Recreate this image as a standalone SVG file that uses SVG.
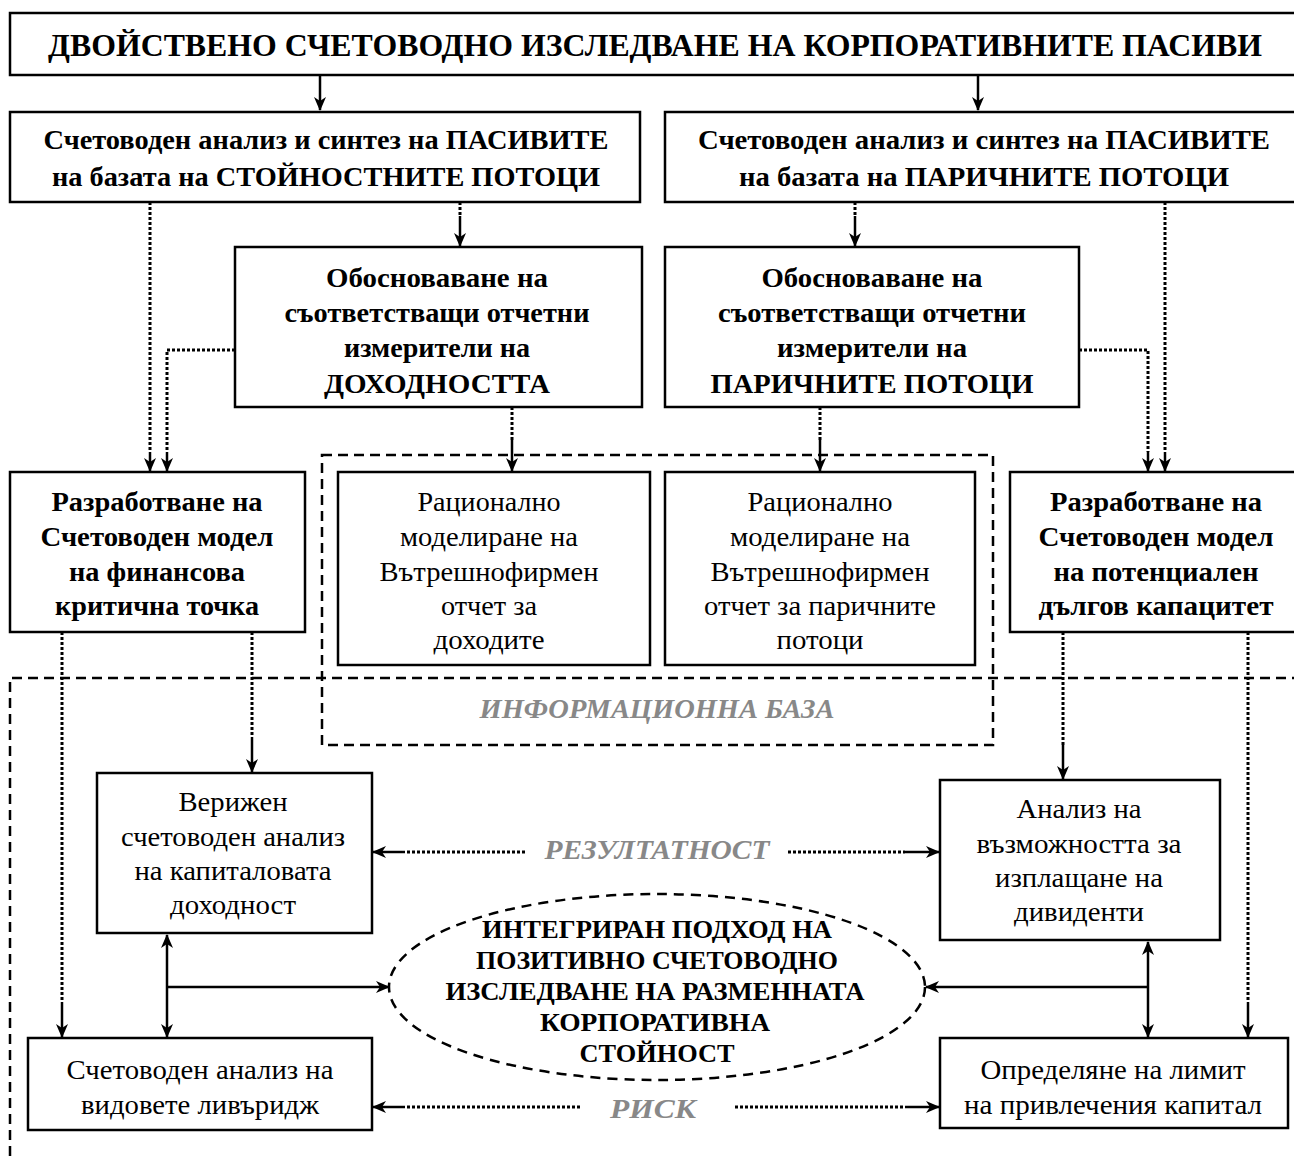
<svg xmlns="http://www.w3.org/2000/svg" width="1294" height="1156" viewBox="0 0 1294 1156">
<style>
.box{fill:#fff;stroke:#000;stroke-width:2.5}
.dsh{fill:none;stroke:#000;stroke-width:2.5;stroke-dasharray:10 6}
.dot{fill:none;stroke:#000;stroke-width:3;stroke-dasharray:3 2}
.sol{fill:none;stroke:#000;stroke-width:2.5}
text{font-family:"Times New Roman","Liberation Serif",serif;text-anchor:middle;fill:#000}
.tb{font-weight:bold;font-size:28px}
.tn{font-size:28px}
.tt{font-weight:bold;font-size:31px}
.te{font-weight:bold;font-size:25px}
.lab{font-weight:bold;font-style:italic;font-size:28px;fill:#888}
</style>
<defs>
<marker id="ah" viewBox="0 0 14 12" refX="13" refY="6" markerWidth="14" markerHeight="12" markerUnits="userSpaceOnUse" orient="auto-start-reverse">
<path d="M0,0 L14,6 L0,12 L4,6 z" fill="#000"/>
</marker>
</defs>
<rect width="1294" height="1156" fill="#fff"/>

<g id="regions">
<path class="dsh" d="M10,1156 V678 H1296"/>
<rect class="dsh" x="322" y="455" width="671" height="290"/>
<text class="lab" x="657" y="718" textLength="355" lengthAdjust="spacingAndGlyphs">ИНФОРМАЦИОННА БАЗА</text>
<text class="lab" x="657" y="859" textLength="225" lengthAdjust="spacingAndGlyphs">РЕЗУЛТАТНОСТ</text>
<text class="lab" x="653" y="1118" textLength="86" lengthAdjust="spacingAndGlyphs">РИСК</text>
</g>

<g id="connectors">
<line class="sol" x1="320" y1="75" x2="320" y2="110" marker-end="url(#ah)"/>
<line class="sol" x1="978" y1="75" x2="978" y2="110" marker-end="url(#ah)"/>
<line class="dot" x1="460" y1="202" x2="460" y2="216"/>
<line class="sol" x1="460" y1="216" x2="460" y2="246" marker-end="url(#ah)"/>
<line class="dot" x1="855" y1="202" x2="855" y2="216"/>
<line class="sol" x1="855" y1="216" x2="855" y2="246" marker-end="url(#ah)"/>
<line class="dot" x1="150" y1="202" x2="150" y2="452"/>
<line class="sol" x1="150" y1="452" x2="150" y2="471" marker-end="url(#ah)"/>
<path class="dot" d="M235,350 H167 V452"/>
<line class="sol" x1="167" y1="452" x2="167" y2="471" marker-end="url(#ah)"/>
<line class="dot" x1="1165" y1="202" x2="1165" y2="452"/>
<line class="sol" x1="1165" y1="452" x2="1165" y2="471" marker-end="url(#ah)"/>
<path class="dot" d="M1079,350 H1148 V452"/>
<line class="sol" x1="1148" y1="452" x2="1148" y2="471" marker-end="url(#ah)"/>
<line class="dot" x1="512" y1="407" x2="512" y2="440"/>
<line class="sol" x1="512" y1="440" x2="512" y2="471" marker-end="url(#ah)"/>
<line class="dot" x1="820" y1="407" x2="820" y2="440"/>
<line class="sol" x1="820" y1="440" x2="820" y2="471" marker-end="url(#ah)"/>
<line class="dot" x1="252" y1="632" x2="252" y2="737"/>
<line class="sol" x1="252" y1="737" x2="252" y2="772" marker-end="url(#ah)"/>
<line class="dot" x1="62" y1="632" x2="62" y2="1002"/>
<line class="sol" x1="62" y1="1002" x2="62" y2="1037" marker-end="url(#ah)"/>
<line class="dot" x1="1063" y1="632" x2="1063" y2="745"/>
<line class="sol" x1="1063" y1="745" x2="1063" y2="779" marker-end="url(#ah)"/>
<line class="dot" x1="1248" y1="632" x2="1248" y2="1002"/>
<line class="sol" x1="1248" y1="1002" x2="1248" y2="1037" marker-end="url(#ah)"/>
<line class="dot" x1="525" y1="852" x2="405" y2="852"/>
<line class="sol" x1="405" y1="852" x2="373" y2="852" marker-end="url(#ah)"/>
<line class="dot" x1="788" y1="852" x2="905" y2="852"/>
<line class="sol" x1="905" y1="852" x2="939" y2="852" marker-end="url(#ah)"/>
<line class="dot" x1="580" y1="1107" x2="405" y2="1107"/>
<line class="sol" x1="405" y1="1107" x2="373" y2="1107" marker-end="url(#ah)"/>
<line class="dot" x1="735" y1="1107" x2="905" y2="1107"/>
<line class="sol" x1="905" y1="1107" x2="939" y2="1107" marker-end="url(#ah)"/>
<line class="sol" x1="167" y1="935" x2="167" y2="1037" marker-start="url(#ah)" marker-end="url(#ah)"/>
<line class="sol" x1="167" y1="987" x2="389" y2="987" marker-end="url(#ah)"/>
<line class="sol" x1="1148" y1="942" x2="1148" y2="1037" marker-start="url(#ah)" marker-end="url(#ah)"/>
<line class="sol" x1="1148" y1="987" x2="926" y2="987" marker-end="url(#ah)"/>
</g>

<g id="n-title">
<rect class="box" x="10" y="13" width="1290" height="62"/>
<text class="tt" x="655" y="56" textLength="1214" lengthAdjust="spacingAndGlyphs">ДВОЙСТВЕНО СЧЕТОВОДНО ИЗСЛЕДВАНЕ НА КОРПОРАТИВНИТЕ ПАСИВИ</text>
</g>
<g id="n-a">
<rect class="box" x="10" y="112" width="630" height="90"/>
<text class="tb" x="326" y="149" textLength="565" lengthAdjust="spacingAndGlyphs">Счетоводен анализ и синтез на ПАСИВИТЕ</text>
<text class="tb" x="326" y="186" textLength="548" lengthAdjust="spacingAndGlyphs">на базата на СТОЙНОСТНИТЕ ПОТОЦИ</text>
</g>
<g id="n-b">
<rect class="box" x="665" y="112" width="635" height="90"/>
<text class="tb" x="984" y="149" textLength="572" lengthAdjust="spacingAndGlyphs">Счетоводен анализ и синтез на ПАСИВИТЕ</text>
<text class="tb" x="984" y="186" textLength="490" lengthAdjust="spacingAndGlyphs">на базата на ПАРИЧНИТЕ ПОТОЦИ</text>
</g>
<g id="n-c">
<rect class="box" x="235" y="247" width="407" height="160"/>
<text class="tb" x="437" y="287" textLength="222" lengthAdjust="spacingAndGlyphs">Обосноваване на</text>
<text class="tb" x="437" y="322" textLength="305" lengthAdjust="spacingAndGlyphs">съответстващи отчетни</text>
<text class="tb" x="437" y="357" textLength="186" lengthAdjust="spacingAndGlyphs">измерители на</text>
<text class="tb" x="437" y="393" textLength="226" lengthAdjust="spacingAndGlyphs">ДОХОДНОСТТА</text>
</g>
<g id="n-d">
<rect class="box" x="665" y="247" width="414" height="160"/>
<text class="tb" x="872" y="287" textLength="221" lengthAdjust="spacingAndGlyphs">Обосноваване на</text>
<text class="tb" x="872" y="322" textLength="308" lengthAdjust="spacingAndGlyphs">съответстващи отчетни</text>
<text class="tb" x="872" y="357" textLength="190" lengthAdjust="spacingAndGlyphs">измерители на</text>
<text class="tb" x="872" y="393" textLength="323" lengthAdjust="spacingAndGlyphs">ПАРИЧНИТЕ ПОТОЦИ</text>
</g>
<g id="n-e">
<rect class="box" x="10" y="472" width="295" height="160"/>
<text class="tb" x="157" y="511" textLength="211" lengthAdjust="spacingAndGlyphs">Разработване на</text>
<text class="tb" x="157" y="546" textLength="233" lengthAdjust="spacingAndGlyphs">Счетоводен модел</text>
<text class="tb" x="157" y="581" textLength="176" lengthAdjust="spacingAndGlyphs">на финансова</text>
<text class="tb" x="157" y="615" textLength="204" lengthAdjust="spacingAndGlyphs">критична точка</text>
</g>
<g id="n-f">
<rect class="box" x="1010" y="472" width="290" height="160"/>
<text class="tb" x="1156" y="511" textLength="212" lengthAdjust="spacingAndGlyphs">Разработване на</text>
<text class="tb" x="1156" y="546" textLength="235" lengthAdjust="spacingAndGlyphs">Счетоводен модел</text>
<text class="tb" x="1156" y="581" textLength="205" lengthAdjust="spacingAndGlyphs">на потенциален</text>
<text class="tb" x="1156" y="615" textLength="235" lengthAdjust="spacingAndGlyphs">дългов капацитет</text>
</g>
<g id="n-g">
<rect class="box" x="338" y="472" width="312" height="193"/>
<text class="tn" x="489" y="511" textLength="143" lengthAdjust="spacingAndGlyphs">Рационално</text>
<text class="tn" x="489" y="546" textLength="178" lengthAdjust="spacingAndGlyphs">моделиране на</text>
<text class="tn" x="489" y="581" textLength="219" lengthAdjust="spacingAndGlyphs">Вътрешнофирмен</text>
<text class="tn" x="489" y="615" textLength="96" lengthAdjust="spacingAndGlyphs">отчет за</text>
<text class="tn" x="489" y="649" textLength="111" lengthAdjust="spacingAndGlyphs">доходите</text>
</g>
<g id="n-h">
<rect class="box" x="665" y="472" width="310" height="193"/>
<text class="tn" x="820" y="511" textLength="145" lengthAdjust="spacingAndGlyphs">Рационално</text>
<text class="tn" x="820" y="546" textLength="180" lengthAdjust="spacingAndGlyphs">моделиране на</text>
<text class="tn" x="820" y="581" textLength="219" lengthAdjust="spacingAndGlyphs">Вътрешнофирмен</text>
<text class="tn" x="820" y="615" textLength="232" lengthAdjust="spacingAndGlyphs">отчет за паричните</text>
<text class="tn" x="820" y="649" textLength="87" lengthAdjust="spacingAndGlyphs">потоци</text>
</g>
<g id="n-j">
<rect class="box" x="97" y="773" width="275" height="160"/>
<text class="tn" x="233" y="811" textLength="109" lengthAdjust="spacingAndGlyphs">Верижен</text>
<text class="tn" x="233" y="846" textLength="224" lengthAdjust="spacingAndGlyphs">счетоводен анализ</text>
<text class="tn" x="233" y="880" textLength="197" lengthAdjust="spacingAndGlyphs">на капиталовата</text>
<text class="tn" x="233" y="914" textLength="126" lengthAdjust="spacingAndGlyphs">доходност</text>
</g>
<g id="n-k">
<rect class="box" x="940" y="780" width="280" height="160"/>
<text class="tn" x="1079" y="818" textLength="125" lengthAdjust="spacingAndGlyphs">Анализ на</text>
<text class="tn" x="1079" y="853" textLength="205" lengthAdjust="spacingAndGlyphs">възможността за</text>
<text class="tn" x="1079" y="887" textLength="168" lengthAdjust="spacingAndGlyphs">изплащане на</text>
<text class="tn" x="1079" y="921" textLength="130" lengthAdjust="spacingAndGlyphs">дивиденти</text>
</g>
<g id="n-i">
<rect class="box" x="28" y="1038" width="344" height="92"/>
<text class="tn" x="200" y="1079" textLength="267" lengthAdjust="spacingAndGlyphs">Счетоводен анализ на</text>
<text class="tn" x="200" y="1114" textLength="238" lengthAdjust="spacingAndGlyphs">видовете ливъридж</text>
</g>
<g id="n-l">
<rect class="box" x="940" y="1038" width="348" height="90"/>
<text class="tn" x="1113" y="1079" textLength="265" lengthAdjust="spacingAndGlyphs">Определяне на лимит</text>
<text class="tn" x="1113" y="1114" textLength="298" lengthAdjust="spacingAndGlyphs">на привлечения капитал</text>
</g>
<g id="n-core">
<ellipse cx="657" cy="987" rx="268" ry="93" fill="none" stroke="#000" stroke-width="2.5" stroke-dasharray="10 7"/>
<text class="te" x="657" y="938" textLength="350" lengthAdjust="spacingAndGlyphs">ИНТЕГРИРАН ПОДХОД НА</text>
<text class="te" x="657" y="969" textLength="362" lengthAdjust="spacingAndGlyphs">ПОЗИТИВНО СЧЕТОВОДНО</text>
<text class="te" x="655" y="1000" textLength="419" lengthAdjust="spacingAndGlyphs">ИЗСЛЕДВАНЕ НА РАЗМЕННАТА</text>
<text class="te" x="655" y="1031" textLength="230" lengthAdjust="spacingAndGlyphs">КОРПОРАТИВНА</text>
<text class="te" x="657" y="1062" textLength="155" lengthAdjust="spacingAndGlyphs">СТОЙНОСТ</text>
</g>
</svg>
